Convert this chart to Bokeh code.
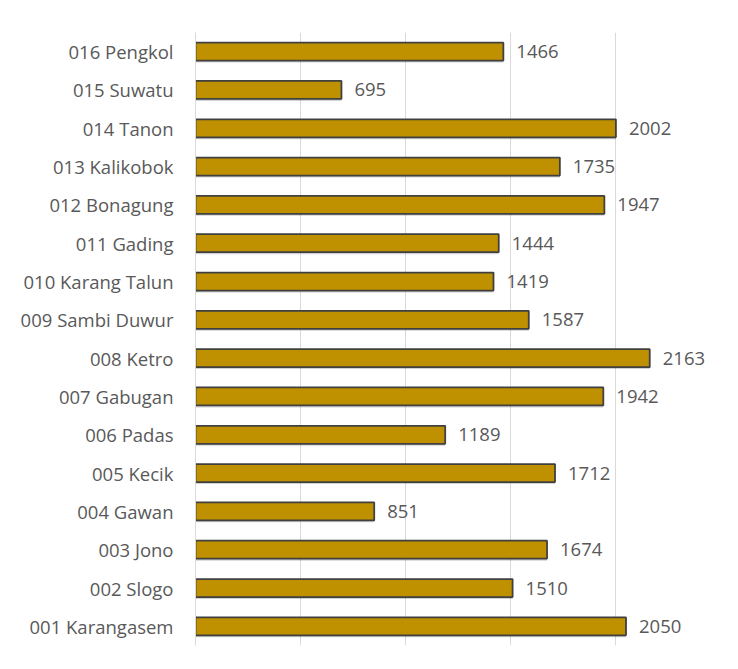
from bokeh.plotting import figure
from bokeh.models import ColumnDataSource, Range1d, FactorRange
from bokeh.transform import dodge
from bokeh.core.properties import value
from bokeh.embed import file_html
from bokeh.resources import INLINE

categories = ["001 Karangasem", "002 Slogo", "003 Jono", "004 Gawan", "005 Kecik",
              "006 Padas", "007 Gabugan", "008 Ketro", "009 Sambi Duwur",
              "010 Karang Talun", "011 Gading", "012 Bonagung", "013 Kalikobok",
              "014 Tanon", "015 Suwatu", "016 Pengkol"]
values = [2050, 1510, 1674, 851, 1712, 1189, 1942, 2163, 1587, 1419, 1444, 1947,
          1735, 2002, 695, 1466]
x_ticks = [0, 500, 1000, 1500, 2000, 2500]

src = ColumnDataSource(dict(cat=categories, val=values, lab=[str(v) for v in values]))

p = figure(width=730, height=661, y_range=FactorRange(*categories, range_padding=0),
           x_range=Range1d(0, 2500), output_backend="svg", toolbar_location=None,
           min_border_left=195, min_border_top=32, min_border_right=10, min_border_bottom=16)

# soft shadow
p.hbar(y=dodge("cat", -0.05, range=p.y_range), left=0, right="val", height=0.47,
       source=src, fill_color="#000000", fill_alpha=0.18, line_color=None)
p.hbar(y="cat", left=0, right="val", height=0.47, source=src,
       fill_color="#BF9000", line_color="#404040", line_width=1.8)
p.text(x="val", y="cat", text="lab", source=src, x_offset=13,
       text_align="left", text_baseline="middle", text_color="#595959",
       text_font=value("Open Sans"), text_font_size="18.5px")

p.xaxis.visible = False
p.xaxis.ticker = x_ticks
p.xgrid.ticker = x_ticks
p.xgrid.grid_line_color = "#D9D9D9"
p.ygrid.grid_line_color = None
p.yaxis.axis_line_color = "#D9D9D9"
p.yaxis.major_tick_line_color = None
p.yaxis.minor_tick_line_color = None
p.yaxis.major_label_standoff = 16
p.yaxis.major_label_text_font = "Open Sans"
p.yaxis.major_label_text_font_size = "18.5px"
p.yaxis.major_label_text_color = "#595959"
p.outline_line_color = None
p.border_fill_color = "white"

open("out.html", "w").write(file_html(p, INLINE))
